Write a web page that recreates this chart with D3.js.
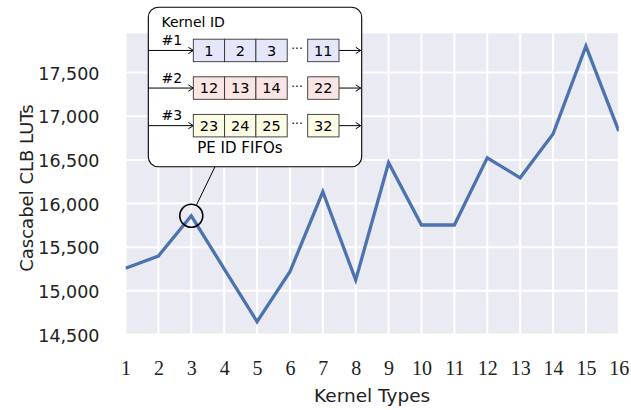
<!DOCTYPE html>
<html>
<head>
<meta charset="utf-8">
<script src="https://cdn.jsdelivr.net/npm/d3@7"></script>
<style>
  body { margin: 0; background: #fff; }
</style>
</head>
<body>
<div id="chart"></div>
<script>
// data
const kernelTypes = [1, 2, 3, 4, 5, 6, 7, 8, 9, 10, 11, 12, 13, 14, 15, 16];
const clbLuts = [15258, 15399, 15860, 15253, 14647, 15219, 16135, 15124, 16467, 15754, 15754, 16524, 16295, 16796, 17803, 16830];
const yTickValues = [14500, 15000, 15500, 16000, 16500, 17000, 17500];
const kernelIds = ["#1", "#2", "#3"];
const peIdFifos = [[1, 2, 3, 11], [12, 13, 14, 22], [23, 24, 25, 32]];
const highlightKernel = 3;

const width = 631, height = 410;
const plot = {left: 125.5, right: 618.8, top: 33.3, bottom: 334.5};

const svg = d3.select("#chart")
    .append("svg")
    .attr("width", width)
    .attr("height", height);

const x = d3.scalePoint().domain(kernelTypes).range([plot.left, plot.right]);
const y = d3.scaleLinear().domain([14500, 17950]).range([plot.bottom, plot.top]);

// grey panel + white grid
svg.append("rect")
    .attr("x", plot.left)
    .attr("y", plot.top)
    .attr("width", plot.right - plot.left)
    .attr("height", plot.bottom - plot.top)
    .attr("fill", "#eaeaf2");

svg.append("g")
    .selectAll("line")
    .data(kernelTypes)
    .join("line")
    .attr("x1", d => x(d)).attr("x2", d => x(d))
    .attr("y1", plot.top).attr("y2", plot.bottom)
    .attr("stroke", "#fff")
    .attr("stroke-width", 2);

svg.append("g")
    .selectAll("line")
    .data(yTickValues)
    .join("line")
    .attr("x1", plot.left).attr("x2", plot.right)
    .attr("y1", d => y(d)).attr("y2", d => y(d))
    .attr("stroke", "#fff")
    .attr("stroke-width", 2);

// axes (labels only)
const xAxis = svg.append("g")
    .attr("transform", `translate(0,${plot.bottom})`)
    .call(d3.axisBottom(x).tickSize(0).tickPadding(26.3));
xAxis.select(".domain").remove();
xAxis.selectAll("text")
    .attr("font-family", "'Liberation Serif', serif")
    .attr("font-size", 20)
    .attr("fill", "#222");

const yAxis = svg.append("g")
    .attr("transform", `translate(${plot.left},0)`)
    .call(d3.axisLeft(y).tickValues(yTickValues).tickFormat(d3.format(",")).tickSize(0).tickPadding(26));
yAxis.select(".domain").remove();
yAxis.selectAll("text")
    .attr("font-family", "'DejaVu Sans', sans-serif")
    .attr("font-size", 17.5)
    .attr("dy", "0.38em")
    .attr("fill", "#222");

svg.append("text")
    .attr("x", (plot.left + plot.right) / 2)
    .attr("y", 402.3)
    .attr("text-anchor", "middle")
    .attr("font-family", "'DejaVu Sans', sans-serif")
    .attr("font-size", 18.5)
    .attr("fill", "#222")
    .text("Kernel Types");

svg.append("text")
    .attr("transform", "translate(32.5,188) rotate(-90)")
    .attr("text-anchor", "middle")
    .attr("font-family", "'DejaVu Sans', sans-serif")
    .attr("font-size", 18)
    .attr("fill", "#222")
    .text("Cascabel CLB LUTs");

// the line
svg.append("clipPath").attr("id", "plot-clip")
    .append("rect")
    .attr("x", plot.left).attr("y", plot.top)
    .attr("width", plot.right - plot.left).attr("height", plot.bottom - plot.top);

const line = d3.line()
    .x((d, i) => x(kernelTypes[i]))
    .y(d => y(d));

svg.append("path")
    .datum(clbLuts)
    .attr("clip-path", "url(#plot-clip)")
    .attr("fill", "none")
    .attr("stroke", "#4c72b0")
    .attr("stroke-width", 3.3)
    .attr("stroke-linejoin", "miter")
    .attr("d", line);

// callout: circle on kernel 3 + FIFO diagram
const box = {x: 148.3, y: 7.3, w: 213.4, h: 159.4};
const cx = x(highlightKernel), cy = y(clbLuts[kernelTypes.indexOf(highlightKernel)]);
const r = 11.5;
const tx = 215, ty = box.y + box.h;
const len = Math.hypot(tx - cx, ty - cy);

svg.append("line")
    .attr("x1", cx + (tx - cx) / len * r)
    .attr("y1", cy + (ty - cy) / len * r)
    .attr("x2", tx).attr("y2", ty)
    .attr("stroke", "#000")
    .attr("stroke-width", 1);

svg.append("circle")
    .attr("cx", cx).attr("cy", cy).attr("r", r)
    .attr("fill", "none")
    .attr("stroke", "#000")
    .attr("stroke-width", 1.6);

svg.append("defs").append("marker")
    .attr("id", "arrow")
    .attr("viewBox", "0 0 6 8")
    .attr("refX", 5.5).attr("refY", 4)
    .attr("markerWidth", 6).attr("markerHeight", 8)
    .attr("markerUnits", "userSpaceOnUse")
    .attr("orient", "auto")
    .append("path")
    .attr("d", "M0.5,0.8 L5.5,4 L0.5,7.2")
    .attr("fill", "none")
    .attr("stroke", "#000")
    .attr("stroke-width", 1);

svg.append("rect")
    .attr("x", box.x).attr("y", box.y)
    .attr("width", box.w).attr("height", box.h)
    .attr("rx", 10).attr("ry", 10)
    .attr("fill", "#fff")
    .attr("stroke", "#000")
    .attr("stroke-width", 1.1);

svg.append("text")
    .attr("x", 161.5).attr("y", 27)
    .attr("font-family", "'DejaVu Sans', sans-serif")
    .attr("font-size", 14)
    .attr("fill", "#000")
    .text("Kernel ID");

const rowFill = d3.scaleOrdinal().domain(kernelIds).range(["#e6e6fb", "#fbe4e4", "#fcfbe3"]);
const cellX = [193.3, 224.6, 255.9, 307.7];
const cellW = 31.3, cellH = 22.5;
const rowY = d3.scalePoint().domain(kernelIds).range([39.2, 114.4]);

const rows = svg.append("g")
    .selectAll("g")
    .data(kernelIds)
    .join("g")
    .attr("transform", d => `translate(0,${rowY(d)})`);

rows.append("line")
    .attr("x1", box.x).attr("x2", cellX[0])
    .attr("y1", cellH / 2).attr("y2", cellH / 2)
    .attr("stroke", "#000").attr("stroke-width", 1)
    .attr("marker-end", "url(#arrow)");

rows.append("line")
    .attr("x1", cellX[3] + cellW).attr("x2", box.x + box.w - 1)
    .attr("y1", cellH / 2).attr("y2", cellH / 2)
    .attr("stroke", "#000").attr("stroke-width", 1)
    .attr("marker-end", "url(#arrow)");

rows.append("text")
    .attr("x", 161.5).attr("y", cellH / 2 - 5.5)
    .attr("font-family", "'DejaVu Sans', sans-serif")
    .attr("font-size", 14)
    .attr("fill", "#000")
    .text(d => d);

rows.append("text")
    .attr("x", 297).attr("y", cellH / 2 + 2.5)
    .attr("text-anchor", "middle")
    .attr("font-family", "'DejaVu Sans', sans-serif")
    .attr("font-size", 12)
    .attr("fill", "#000")
    .text("···");

const cells = rows.selectAll("g.cell")
    .data((d, i) => peIdFifos[i].map((v, j) => ({row: d, id: v, x: cellX[j]})))
    .join("g")
    .attr("class", "cell");

cells.append("rect")
    .attr("x", d => d.x).attr("y", 0)
    .attr("width", cellW).attr("height", cellH)
    .attr("fill", d => rowFill(d.row))
    .attr("stroke", "#333")
    .attr("stroke-width", 0.9);

cells.append("text")
    .attr("x", d => d.x + cellW / 2)
    .attr("y", cellH / 2)
    .attr("dy", "0.36em")
    .attr("text-anchor", "middle")
    .attr("font-family", "'DejaVu Sans', sans-serif")
    .attr("font-size", 14.5)
    .attr("fill", "#000")
    .text(d => d.id);

svg.append("text")
    .attr("x", 240).attr("y", 153.3)
    .attr("text-anchor", "middle")
    .attr("font-family", "'DejaVu Sans', sans-serif")
    .attr("font-size", 15)
    .attr("fill", "#000")
    .text("PE ID FIFOs");
</script>
</body>
</html>
